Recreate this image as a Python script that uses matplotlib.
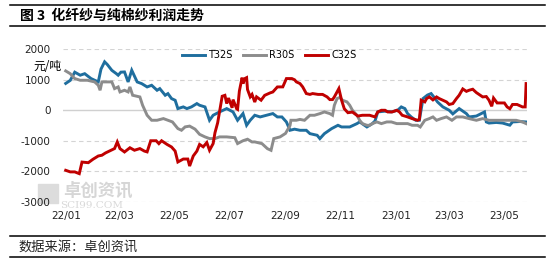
import pandas as pd
import matplotlib
matplotlib.use('Agg')
import matplotlib.pyplot as plt
import matplotlib.dates as mdates
from matplotlib.lines import Line2D
from matplotlib.patches import Rectangle

plt.rcParams['font.family'] = ['DejaVu Sans', 'Noto Sans CJK SC']
plt.rcParams['axes.unicode_minus'] = False

start = pd.Timestamp('2022-01-01')

# days since 2022-01-01, profit in yuan/ton
t32s_day = [0, 5, 10, 16, 21, 28, 36, 39, 43, 46, 51, 56, 58, 61, 65, 69, 73, 79, 84, 90,
            95, 101, 104, 110, 113, 117, 121, 124, 130, 134, 139, 145, 148, 154, 159, 163,
            170, 178, 185, 190, 196, 200, 204, 209, 215, 222, 229, 234, 239, 244, 248, 253,
            259, 266, 270, 278, 281, 286, 294, 301, 305, 314, 322, 325, 333, 339, 342, 345,
            353, 360, 367, 371, 375, 378, 382, 387, 391, 395, 400, 404, 408, 411, 417, 424,
            428, 435, 443, 446, 454, 463, 465, 468, 476, 483, 491, 494, 502, 509]
t32s_val = [880, 980, 1250, 1150, 1200, 1040, 930, 1350, 1590, 1500, 1310, 1200, 1150, 1250,
            1257, 929, 1312, 929, 874, 765, 820, 656, 710, 492, 546, 383, 328, 55, 110, 55,
            110, 219, 164, 109, -328, -164, -55, 55, -55, -328, -109, -492, -328, -164, -219,
            -164, -109, -219, -219, -383, -656, -620, -657, -657, -767, -821, -931, -767, -602,
            -493, -548, -548, -438, -383, -548, -438, -350, -55, -30, -55, 0, 110, 55, -110,
            -219, -330, -330, 383, 500, 548, 400, 274, 110, 0, -120, 55, -110, -219, -190, -55,
            -383, -420, -400, -420, -490, -383, -370, -383]

r30s_day = [0, 5, 10, 16, 24, 32, 36, 38, 40, 51, 54, 58, 60, 65, 69, 71, 74, 82, 85, 90,
            95, 101, 108, 113, 118, 124, 128, 132, 137, 143, 148, 154, 159, 165, 170, 178,
            187, 190, 196, 201, 206, 209, 217, 223, 227, 230, 237, 243, 248, 249, 255, 259,
            264, 270, 275, 281, 286, 292, 295, 297, 300, 303, 306, 311, 314, 317, 322, 325,
            328, 333, 336, 339, 344, 349, 355, 360, 366, 371, 378, 383, 389, 392, 397, 402,
            406, 410, 415, 421, 427, 432, 439, 446, 454, 461, 468, 476, 483, 491, 498, 505, 509]
r30s_val = [1290, 1200, 1040, 984, 984, 930, 820, 656, 930, 930, 710, 765, 601, 656, 601, 765,
            492, 437, 164, -164, -328, -328, -273, -328, -383, -601, -656, -546, -520, -620,
            -790, -874, -929, -929, -874, -874, -900, -1093, -1000, -950, -1040, -1038, -1095,
            -1260, -1314, -929, -874, -760, -500, -328, -328, -300, -329, -164, -164, -110, -55,
            -110, -164, 164, 383, 420, 329, 274, 164, 0, -164, -329, -438, -493, -493, -438,
            -383, -438, -383, -383, -438, -438, -438, -493, -493, -548, -329, -274, -219, -329,
            -274, -219, -329, -219, -219, -274, -329, -274, -329, -329, -329, -329, -329, -383,
            -438]

c32s_day = [0, 5, 10, 15, 18, 25, 30, 36, 40, 44, 50, 54, 57, 60, 65, 71, 76, 82, 87, 90,
            94, 100, 103, 106, 112, 117, 121, 124, 130, 135, 137, 141, 145, 148, 152, 156,
            159, 163, 165, 168, 173, 176, 178, 180, 184, 185, 189, 190, 192, 195, 196, 198,
            200, 201, 204, 206, 209, 211, 216, 220, 226, 229, 234, 240, 244, 250, 253, 255,
            259, 262, 266, 270, 273, 279, 284, 289, 292, 295, 297, 302, 305, 308, 312, 317,
            323, 328, 336, 342, 345, 349, 353, 356, 361, 366, 369, 372, 378, 383, 389, 391,
            393, 397, 399, 402, 406, 410, 413, 417, 421, 424, 428, 432, 435, 439, 443, 446,
            450, 454, 457, 461, 465, 468, 471, 473, 477, 485, 488, 491, 494, 499, 505, 508, 509]
c32s_val = [-1970, -2022, -2022, -2080, -1700, -1720, -1610, -1500, -1476, -1400, -1312, -1257,
            -1040, -1260, -1369, -1230, -1312, -1257, -1340, -1366, -1000, -1000, -1095, -1000,
            -1120, -1205, -1340, -1697, -1600, -1600, -1830, -1500, -1340, -1120, -1200, -1060,
            -1312, -1093, -740, -410, 460, 490, 220, 400, 80, 350, 50, 30, 630, 1070, 874, 1040,
            1070, 680, 440, 520, 270, 440, 330, 490, 570, 600, 765, 767, 1040, 1040, 1000, 931,
            876, 767, 548, 520, 548, 520, 520, 438, 350, 350, 438, 712, 330, 50, -80, -60, -190,
            -164, -164, -219, -55, 0, 0, -55, -55, 0, -55, -164, -219, -274, -329, -300, 330,
            274, 383, 438, 340, 438, 383, 329, 274, 190, 219, 383, 493, 700, 620, 657, 690, 580,
            520, 438, 450, 329, 130, 400, 240, 240, 110, 50, 190, 190, 110, 110, 876]

series = [('T32S', t32s_day, t32s_val, '#1f6e9e'),
          ('R30S', r30s_day, r30s_val, '#8c8c8c'),
          ('C32S', c32s_day, c32s_val, '#c00000')]

yticks = [2000, 1000, 0, -1000, -2000, -3000]
title = '图 3  化纤纱与纯棉纱利润走势'
source = '数据来源：卓创资讯'

W, H = 557, 263
fig = plt.figure(figsize=(W / 100, H / 100), dpi=100)
ax = fig.add_axes([63 / W, 1 - 201.7 / H, (527 - 63) / W, (201.7 - 49.3) / H])

for name, d, v, c in series:
    x = start + pd.to_timedelta(d, unit='D')
    ax.plot(x, v, color=c, lw=2.1, label=name, solid_joinstyle='miter')

ax.set_ylim(-3000, 2000)
ax.set_xlim(start - pd.Timedelta(days=3), start + pd.Timedelta(days=510))
ax.set_yticks(yticks)
for y in yticks:
    if y != 0:
        ax.axhline(y, color='#d4d4d4', lw=0.8, ls=(0, (4, 3)), zorder=0)
ax.axhline(0, color='#d0d0d0', lw=1.0, zorder=0)

ax.xaxis.set_major_locator(mdates.MonthLocator(bymonth=[1, 3, 5, 7, 9, 11]))
ax.xaxis.set_major_formatter(mdates.DateFormatter('%y/%m'))
ax.tick_params(axis='both', length=0, labelsize=7.5, colors='#222222')
ax.tick_params(axis='x', pad=7)
ax.tick_params(axis='y', pad=9)
for s in ax.spines.values():
    s.set_visible(False)

ax.legend(loc='center', bbox_to_anchor=(0.444, 0.963), ncol=3, frameon=False,
          fontsize=7, handlelength=2.4, columnspacing=1.1, handletextpad=0.3)

# 单位
fig.text(62 / W, 1 - 66.7 / H, '元/吨', ha='right', va='center', fontsize=8.5,
         family=['Noto Sans CJK SC', 'DejaVu Sans'])

# watermark
fig.add_artist(Rectangle((38 / W, 1 - 203 / H), 20 / W, 19 / H, transform=fig.transFigure,
                         color='#dcdcdc', zorder=0))
fig.text(63 / W, 1 - 191 / H, '卓创资讯', ha='left', va='center', fontsize=12.5,
         color='#d6d6d6', weight='bold', family=['Noto Sans CJK SC'], zorder=0)
fig.text(60 / W, 1 - 205 / H, 'SCI99.COM', ha='left', va='center', fontsize=7.5,
         color='#d9d9d9', family=['DejaVu Serif'], zorder=0)

# title and frame lines
for y in [5, 26, 236, 257]:
    fig.add_artist(Line2D([10 / W, 545 / W], [1 - y / H, 1 - y / H], color='black', lw=1.1,
                          transform=fig.transFigure))
fig.text(20 / W, 1 - 16 / H, title, ha='left', va='center', fontsize=10, weight='bold',
         family=['Noto Sans CJK SC', 'DejaVu Sans'])
fig.text(18 / W, 1 - 247 / H, source, ha='left', va='center', fontsize=9.5, color='#222222',
         family=['Noto Sans CJK SC', 'DejaVu Sans'])

fig.savefig('out.png', dpi=100)
